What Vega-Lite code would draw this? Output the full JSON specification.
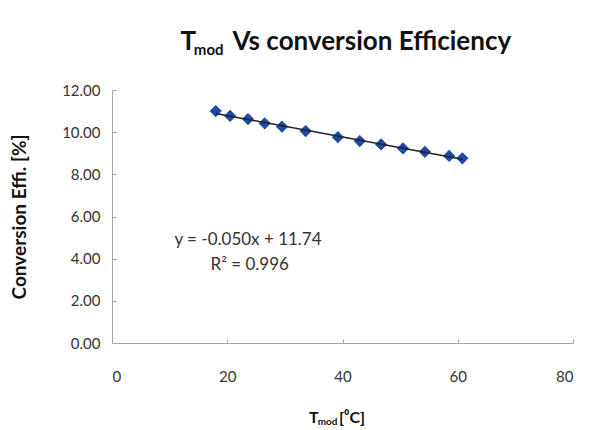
{
  "$schema": "https://vega.github.io/schema/vega-lite/v6.json",
  "width": 461,
  "height": 253,
  "autosize": {"type": "none"},
  "padding": {"left": 112, "top": 90, "right": 19, "bottom": 87},
  "background": "white",
  "config": {
    "view": {"stroke": null},
    "font": "Lato",
    "axis": {"grid": false, "domainColor": "#a6a6a6", "tickColor": "#a6a6a6", "labelColor": "#333333", "labelFont": "Lato", "labelFontSize": 15, "titleFont": "Lato"}
  },
  "datasets": {
    "pts": [
      {"t": 18.0, "eff": 11.00},
      {"t": 20.5, "eff": 10.77},
      {"t": 23.6, "eff": 10.62},
      {"t": 26.5, "eff": 10.42},
      {"t": 29.5, "eff": 10.26},
      {"t": 33.6, "eff": 10.05},
      {"t": 39.2, "eff": 9.76},
      {"t": 43.0, "eff": 9.58},
      {"t": 46.7, "eff": 9.42},
      {"t": 50.5, "eff": 9.23},
      {"t": 54.3, "eff": 9.07},
      {"t": 58.5, "eff": 8.87},
      {"t": 60.8, "eff": 8.76}
    ]
  },
  "layer": [
    {
      "data": {"name": "pts"},
      "mark": {"type": "point", "shape": "diamond", "filled": true, "size": 150, "color": "#1c4aa8", "opacity": 1},
      "encoding": {
        "x": {"field": "t", "type": "quantitative", "scale": {"domain": [0, 80], "nice": false},
          "axis": {"values": [0, 20, 40, 60, 80], "tickSize": -4, "labelPadding": 30, "title": null}},
        "y": {"field": "eff", "type": "quantitative", "scale": {"domain": [0, 12], "nice": false},
          "axis": {"values": [0, 2, 4, 6, 8, 10, 12], "format": ".2f", "tickSize": -4, "labelPadding": 16,
            "title": "Conversion Effi. [%]", "titleFontSize": 19, "titleFontWeight": "bold", "titleColor": "#111111", "titlePadding": 32}}
      }
    },
    {
      "data": {"name": "pts"},
      "transform": [{"regression": "eff", "on": "t"}],
      "mark": {"type": "line", "color": "#222222", "strokeWidth": 1.5},
      "encoding": {
        "x": {"field": "t", "type": "quantitative"},
        "y": {"field": "eff", "type": "quantitative"}
      }
    },
    {
      "data": {"values": [
        {"label": "y = -0.050x + 11.74", "lx": 23.6, "ly": 4.89},
        {"label": "R² = 0.996", "lx": 23.9, "ly": 3.7}
      ]},
      "mark": {"type": "text", "fontSize": 17, "color": "#333333", "align": "center", "baseline": "middle"},
      "encoding": {
        "x": {"field": "lx", "type": "quantitative"},
        "y": {"field": "ly", "type": "quantitative"},
        "text": {"field": "label"}
      }
    },
    {
      "data": {"values": [
        {"label": "T", "lx": 11.9, "ly": 13.9},
        {"label": "Vs conversion Efficiency", "lx": 20.9, "ly": 13.9}
      ]},
      "mark": {"type": "text", "fontSize": 26, "fontWeight": "bold", "color": "#111111", "align": "left", "baseline": "alphabetic"},
      "encoding": {
        "x": {"field": "lx", "type": "quantitative"},
        "y": {"field": "ly", "type": "quantitative"},
        "text": {"field": "label"}
      }
    },
    {
      "data": {"values": [
        {"label": "mod", "lx": 14.2, "ly": 13.66}
      ]},
      "mark": {"type": "text", "fontSize": 15, "fontWeight": "bold", "color": "#111111", "align": "left", "baseline": "alphabetic"},
      "encoding": {
        "x": {"field": "lx", "type": "quantitative"},
        "y": {"field": "ly", "type": "quantitative"},
        "text": {"field": "label"}
      }
    },
    {
      "data": {"values": [
        {"label": "T", "lx": 34.2, "ly": -3.8},
        {"label": "[⁰C]", "lx": 39.4, "ly": -3.8}
      ]},
      "mark": {"type": "text", "fontSize": 16, "fontWeight": "bold", "color": "#111111", "align": "left", "baseline": "alphabetic"},
      "encoding": {
        "x": {"field": "lx", "type": "quantitative"},
        "y": {"field": "ly", "type": "quantitative"},
        "text": {"field": "label"}
      }
    },
    {
      "data": {"values": [
        {"label": "mod", "lx": 35.7, "ly": -3.9}
      ]},
      "mark": {"type": "text", "fontSize": 10, "fontWeight": "bold", "color": "#111111", "align": "left", "baseline": "alphabetic"},
      "encoding": {
        "x": {"field": "lx", "type": "quantitative"},
        "y": {"field": "ly", "type": "quantitative"},
        "text": {"field": "label"}
      }
    }
  ]
}
